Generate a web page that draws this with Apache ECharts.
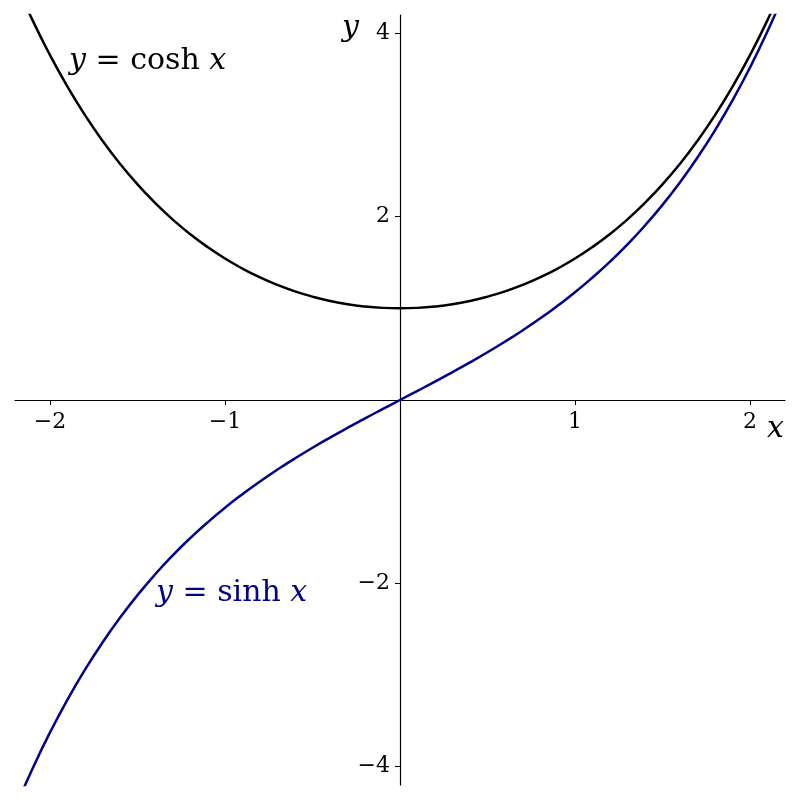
<!DOCTYPE html>
<html>
<head>
<meta charset="utf-8">
<script src="https://cdn.jsdelivr.net/npm/echarts@6/dist/echarts.min.js"></script>
<style>html,body{margin:0;padding:0;background:#fff}#c{width:800px;height:800px}</style>
</head>
<body>
<div id="c"></div>
<script>
// sampled x values
const xs = [-2.2,-2.1,-2.0,-1.9,-1.8,-1.7,-1.6,-1.5,-1.4,-1.3,-1.2,-1.1,-1.0,-0.9,-0.8,-0.7,-0.6,-0.5,-0.4,-0.3,-0.2,-0.1,0.0,
            0.1,0.2,0.3,0.4,0.5,0.6,0.7,0.8,0.9,1.0,1.1,1.2,1.3,1.4,1.5,1.6,1.7,1.8,1.9,2.0,2.1,2.2];
// y = cosh x
const coshY = [4.568,4.144,3.762,3.418,3.107,2.828,2.577,2.352,2.151,1.971,1.811,1.669,1.543,1.433,1.337,1.255,1.185,1.128,1.081,1.045,1.020,1.005,1.000,
               1.005,1.020,1.045,1.081,1.128,1.185,1.255,1.337,1.433,1.543,1.669,1.811,1.971,2.151,2.352,2.577,2.828,3.107,3.418,3.762,4.144,4.568];
// y = sinh x
const sinhY = [-4.457,-4.022,-3.627,-3.268,-2.942,-2.646,-2.376,-2.129,-1.904,-1.698,-1.509,-1.336,-1.175,-1.027,-0.888,-0.759,-0.637,-0.521,-0.411,-0.305,-0.201,-0.100,0.000,
               0.100,0.201,0.305,0.411,0.521,0.637,0.759,0.888,1.027,1.175,1.336,1.509,1.698,1.904,2.129,2.376,2.646,2.942,3.268,3.627,4.022,4.457];
const xTicks = [-2,-1,1,2];
const yTicks = [-4,-2,2,4];

const serif = 'DejaVu Serif';
const fmt = v => (v < 0 ? '\u2212' + Math.abs(v) : String(v));

const chart = echarts.init(document.getElementById('c'));
chart.setOption({
  animation: false,
  backgroundColor: '#fff',
  grid: { left: 15, right: 15, top: 15, bottom: 15, containLabel: false, outerBoundsMode: 'none' },
  xAxis: {
    type: 'value', min: -2.2, max: 2.2, position: 'bottom', offset: -385,
    axisLine: { onZero: false, lineStyle: { color: '#000', width: 1.2 } },
    axisTick: { show: true, inside: false, length: 5, customValues: xTicks, lineStyle: { color: '#000', width: 1 } },
    axisLabel: { customValues: xTicks, formatter: fmt, color: '#000', fontFamily: serif, fontSize: 22, margin: 11 },
    splitLine: { show: false }
  },
  yAxis: {
    type: 'value', min: -4.2, max: 4.2, position: 'left', offset: -385,
    axisLine: { onZero: false, lineStyle: { color: '#000', width: 1.2 } },
    axisTick: { show: true, inside: false, length: 5, customValues: yTicks, lineStyle: { color: '#000', width: 1 } },
    axisLabel: { customValues: yTicks, formatter: fmt, color: '#000', fontFamily: serif, fontSize: 22, margin: 10 },
    splitLine: { show: false }
  },
  series: [
    { type: 'line', name: 'cosh', data: xs.map((x, i) => [x, coshY[i]]), showSymbol: false, smooth: true, clip: true,
      lineStyle: { color: '#000', width: 2.5 } },
    { type: 'line', name: 'sinh', data: xs.map((x, i) => [x, sinhY[i]]), showSymbol: false, smooth: true, clip: true,
      lineStyle: { color: '#00008b', width: 2.5 } }
  ],
  graphic: [
    { type: 'text', left: 342, top: 13, style: { text: 'y', font: 'italic 30px "DejaVu Serif"', fill: '#000' } },
    { type: 'text', left: 767, top: 414, style: { text: 'x', font: 'italic 30px "DejaVu Serif"', fill: '#000' } },
    { type: 'text', left: 69, top: 46, style: {
        text: '{i|y} = cosh {i|x}', font: '30px "DejaVu Serif"', fill: '#000',
        rich: { i: { fontStyle: 'italic', fontFamily: serif, fontSize: 30, color: '#000' } } } },
    { type: 'text', left: 156, top: 578, style: {
        text: '{i|y} = sinh {i|x}', font: '30px "DejaVu Serif"', fill: '#00008b',
        rich: { i: { fontStyle: 'italic', fontFamily: serif, fontSize: 30, color: '#00008b' } } } }
  ]
});
</script>
</body>
</html>
